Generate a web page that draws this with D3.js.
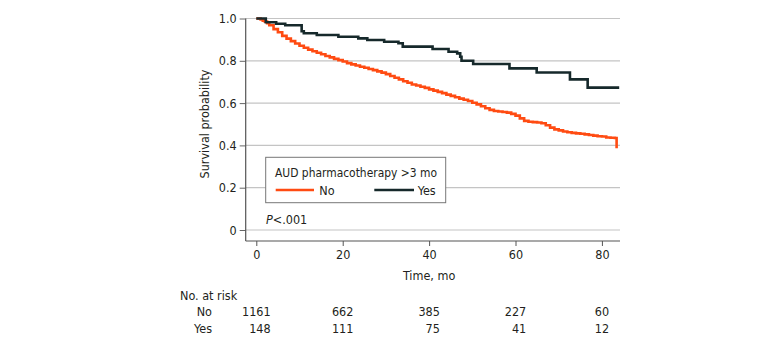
<!DOCTYPE html>
<html><head><meta charset="utf-8">
<script src="https://cdn.jsdelivr.net/npm/d3@7"></script>
<style>
html,body{margin:0;padding:0;background:#fff;}
svg{display:block;}
svg text{font-family:"DejaVu Sans Condensed","DejaVu Sans",sans-serif;font-stretch:condensed;}
</style></head>
<body>
<svg id="chart" width="780" height="348"></svg>
<script>
// ---- Data ----
const noTimes = [0,0.5,1,1.5,2,2.5,3,4,5,6,7,8,9,10,11,12,13,14,15,16,17,18,19,20,21,22,23,24,25,26,27,28,29,30,31,32,33,34,35,36,37,38,39,40,41,42,43,44,45,46,47,48,49,50,51,52,53,54,55,56,57,58,59,60,61,62,63,64,65,66,67,68,69,70,71,72,73,74,75,76,77,78,79,80,81,82,83,83.4];
const noSurv  = [1,1,0.995,0.99,0.985,0.978,0.968,0.95,0.935,0.918,0.905,0.893,0.882,0.871,0.862,0.853,0.845,0.838,0.831,0.823,0.816,0.809,0.803,0.797,0.789,0.783,0.778,0.772,0.767,0.761,0.756,0.75,0.744,0.737,0.728,0.72,0.712,0.703,0.696,0.688,0.683,0.677,0.672,0.665,0.659,0.653,0.647,0.64,0.634,0.628,0.621,0.616,0.61,0.602,0.594,0.585,0.576,0.568,0.563,0.56,0.558,0.555,0.549,0.541,0.528,0.516,0.512,0.51,0.508,0.505,0.495,0.484,0.476,0.471,0.466,0.462,0.459,0.457,0.455,0.452,0.449,0.446,0.443,0.442,0.437,0.436,0.435,0.386];
const yesTimes = [0,2.2,4.6,6.7,10.5,11,14,19,23.6,25.7,29.6,32.9,33.9,40.8,44.5,46.5,47.2,47.5,50.2,58.6,64.9,72.6,76.7,84];
const yesSurv  = [1,0.982,0.975,0.968,0.94,0.93,0.922,0.914,0.906,0.898,0.89,0.883,0.867,0.856,0.843,0.835,0.819,0.8,0.785,0.764,0.745,0.712,0.673,0.673];
const yTicks = [0,0.2,0.4,0.6,0.8,1.0];
const yTickLabels = ["0","0.2","0.4","0.6","0.8","1.0"];
const xTicks = [0,20,40,60,80];
const riskTimes = [0,20,40,60,80];
const riskNo  = [1161,662,385,227,60];
const riskYes = [148,111,75,41,12];
const seriesNames = ["No","Yes"];
const legendTitle = "AUD pharmacotherapy >3 mo";
const pText = "<.001";

// ---- Layout ----
const svg = d3.select("#chart");
const colNo = "#ff4b12", colYes = "#16292b";
const x = d3.scaleLinear().domain([0,84]).range([256.3,619.2]);
const y = d3.scaleLinear().domain([0,1]).range([230,18.5]);
const axisX0 = 245.7, axisYb = 241, plotRight = 620;
const textCol = "#231f20";
const fs = 12.5;

// gridlines
svg.append("g").selectAll("line").data(yTicks).join("line")
  .attr("x1",axisX0).attr("x2",plotRight)
  .attr("y1",d=>y(d)).attr("y2",d=>y(d))
  .attr("stroke","#c4c4c4").attr("stroke-width",1.2);

// y axis
const yAxis = d3.axisLeft(y).tickValues(yTicks).tickSize(6).tickPadding(3)
  .tickFormat((d,i)=>yTickLabels[i]);
const gy = svg.append("g").attr("transform",`translate(${axisX0},0)`).call(yAxis);
gy.select(".domain").remove();
gy.selectAll(".tick line").attr("stroke","#666");
gy.selectAll(".tick text").attr("font-size",fs).attr("fill",textCol);
svg.append("line").attr("x1",axisX0).attr("x2",axisX0).attr("y1",y(1)).attr("y2",axisYb)
  .attr("stroke","#555").attr("stroke-width",1.2);

// x axis
const xAxis = d3.axisBottom(x).tickValues(xTicks).tickSize(5).tickPadding(4);
const gx = svg.append("g").attr("transform",`translate(0,${axisYb})`).call(xAxis);
gx.select(".domain").remove();
gx.selectAll(".tick line").attr("stroke","#555");
gx.selectAll(".tick text").attr("font-size",fs).attr("fill",textCol);
gy.attr("font-family",null).attr("font-size",null);
gx.attr("font-family",null).attr("font-size",null);
svg.append("line").attr("x1",axisX0).attr("x2",plotRight).attr("y1",axisYb).attr("y2",axisYb)
  .attr("stroke","#555").attr("stroke-width",1.2);

// axis titles
svg.append("text").attr("x",x(40)).attr("y",280).attr("text-anchor","middle")
  .attr("font-size",fs).attr("fill",textCol).text("Time, mo");
svg.append("text").attr("transform",`translate(209,124) rotate(-90)`).attr("text-anchor","middle")
  .attr("font-size",fs).attr("fill",textCol).text("Survival probability");

// curves
const line = d3.line().x(d=>x(d[0])).y(d=>y(d[1])).curve(d3.curveStepAfter);
svg.append("path").datum(noTimes.map((t,i)=>[t,noSurv[i]]))
  .attr("d",line).attr("fill","none").attr("stroke",colNo).attr("stroke-width",2.6);
svg.append("path").datum(yesTimes.map((t,i)=>[t,yesSurv[i]]))
  .attr("d",line).attr("fill","none").attr("stroke",colYes).attr("stroke-width",2.6);

// legend
const lg = svg.append("g");
lg.append("rect").attr("x",265.7).attr("y",157.3).attr("width",180).attr("height",45.4)
  .attr("fill","#fff").attr("stroke","#777").attr("stroke-width",1);
lg.append("text").attr("x",275).attr("y",177).attr("font-size",fs).attr("fill",textCol)
  .attr("textLength",162).attr("lengthAdjust","spacingAndGlyphs").text(legendTitle);
lg.append("line").attr("x1",275.7).attr("x2",314).attr("y1",190).attr("y2",190).attr("stroke",colNo).attr("stroke-width",2.6);
lg.append("text").attr("x",319.3).attr("y",194.5).attr("font-size",fs).attr("fill",textCol).text(seriesNames[0]);
lg.append("line").attr("x1",374.3).attr("x2",414).attr("y1",190).attr("y2",190).attr("stroke",colYes).attr("stroke-width",2.6);
lg.append("text").attr("x",417.7).attr("y",194.5).attr("font-size",fs).attr("fill",textCol).text(seriesNames[1]);

// P value
const pt = svg.append("text").attr("x",266).attr("y",223.5).attr("font-size",fs).attr("fill",textCol);
pt.append("tspan").attr("font-style","italic").text("P");
pt.append("tspan").text(pText);

// number at risk
svg.append("text").attr("x",180).attr("y",299.5).attr("font-size",fs).attr("fill",textCol).text("No. at risk");
svg.append("text").attr("x",212).attr("y",316).attr("text-anchor","end").attr("font-size",fs).attr("fill",textCol).text(seriesNames[0]);
svg.append("text").attr("x",212).attr("y",332.5).attr("text-anchor","end").attr("font-size",fs).attr("fill",textCol).text(seriesNames[1]);
const rowNo = svg.append("g").selectAll("text").data(riskNo).join("text")
  .attr("x",(d,i)=>x(riskTimes[i])).attr("y",316).attr("text-anchor","middle")
  .attr("font-size",fs).attr("fill",textCol).text(d=>d);
rowNo.each(function(d,i){
  const w = this.getComputedTextLength();
  const right = x(riskTimes[i]) + w/2;
  d3.select(this).attr("text-anchor","end").attr("x",right);
  svg.append("text").attr("x",right).attr("y",332.5).attr("text-anchor","end")
    .attr("font-size",fs).attr("fill",textCol).text(riskYes[i]);
});
</script>
</body></html>
